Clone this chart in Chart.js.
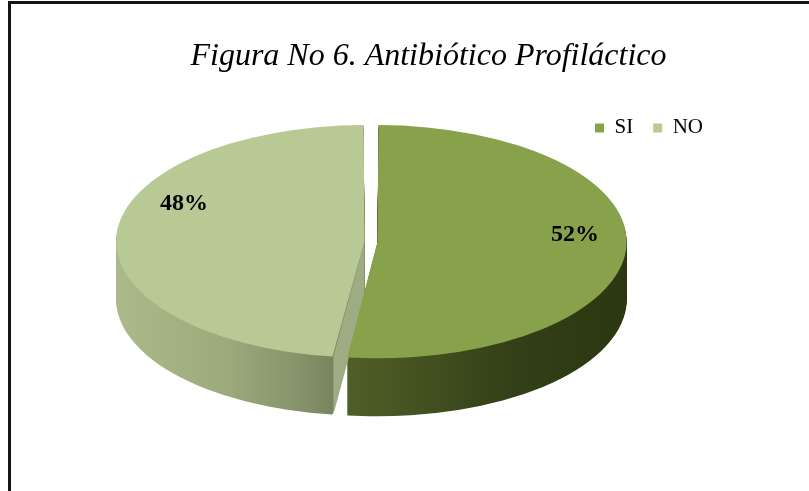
<!DOCTYPE html>
<html lang="es">
<head>
<meta charset="UTF-8">
<title>Figura No 6. Antibiótico Profiláctico</title>
<script src="https://cdn.jsdelivr.net/npm/chart.js@4.4.1/dist/chart.umd.min.js"></script>
<style>
  html, body { margin: 0; padding: 0; background: #fff; }
  #wrap { position: relative; width: 809px; height: 491px; overflow: hidden; }
  /* the chart frame: only top and left edges show in the picture */
  #frame { position: absolute; left: 8px; top: 1px; right: -10px; bottom: -10px;
           border-top: 3px solid #141414; border-left: 3px solid #141414; }
  #chart { position: absolute; left: 0; top: 0; }
</style>
</head>
<body>
<div id="wrap">
  <div id="frame"></div>
  <canvas id="chart" width="809" height="491"></canvas>
</div>
<script>
// data
const categories = ['SI', 'NO'];
const values = [52, 48];
const topColors = ['#87a24a', '#b8c996'];
// side shading, stops across the pie width (left -> right)
const sideStops = [
  [[0.45, '#4f5e27'], [0.62, '#414e1f'], [0.78, '#333f16'], [1, '#2c3811']],
  [[0, '#abb98a'], [0.2, '#9eac7d'], [0.36, '#87936a'], [0.48, '#6f7b55']]
];
// flat cut faces of the slices
const wallColors = ['#5d6e2d', '#9dac82'];

// 3d look (screen pixels)
const PIE_CX = 371, PIE_CY = 241.5;
const PIE_RX = 249, PIE_RY = 116.5;   // visible ellipse of the top face
const PIE_DEPTH = 58;
const BASE_R = 100;          // natural radius given to chart.js before squashing
const EXPLODE_PX = 6.5;      // gap of each slice from the centre
// arc.draw grows exploded slices by offset/4, so squash a bit more
const GROW = 1 + EXPLODE_PX / PIE_RX;
// label placement
const LABEL_DX = 8.5, LABEL_DY = -22, LABEL_R = 0.796, LABEL_ROT = 6 * Math.PI / 180;

function pieScale(arc) {
  return [PIE_RX / GROW / arc.outerRadius, PIE_RY / GROW / arc.outerRadius];
}

function pieView(ctx, arc, dy) {
  const [sx, sy] = pieScale(arc);
  ctx.translate(PIE_CX, PIE_CY + dy);
  ctx.scale(sx, sy);
  ctx.translate(-arc.x, -arc.y);
}

// radial cut faces that look towards the viewer
function drawWalls(ctx, arc, color) {
  const sy = pieScale(arc)[1];
  const depth = PIE_DEPTH / sy;
  const off = (arc.options.offset || 0) / 4;
  const circ = arc.endAngle - arc.startAngle;
  const rOut = arc.outerRadius + off * (1 - Math.sin(Math.min(Math.PI, circ)));
  const mid = (arc.startAngle + arc.endAngle) / 2;
  const ax = arc.x + Math.cos(mid) * off, ay = arc.y + Math.sin(mid) * off;
  [[arc.startAngle, -1], [arc.endAngle, 1]].forEach(([a, side]) => {
    const normal = a + side * Math.PI / 2;
    if (Math.sin(normal) <= 0) return;
    const rx = ax + Math.cos(a) * rOut, ry = ay + Math.sin(a) * rOut;
    ctx.beginPath();
    ctx.moveTo(ax, ay);
    ctx.lineTo(rx, ry);
    ctx.lineTo(rx, ry + depth);
    ctx.lineTo(ax, ay + depth);
    ctx.closePath();
    ctx.fillStyle = color;
    ctx.fill();
  });
}

const pie3d = {
  id: 'pie3d',
  beforeDatasetsDraw(chart) {
    const ctx = chart.ctx;
    const arcs = chart.getDatasetMeta(0).data;
    const R = arcs[0].outerRadius;
    // walls: stack the slices downwards, deepest first
    for (let d = PIE_DEPTH; d >= 1; d--) {
      arcs.forEach((arc, i) => {
        ctx.save();
        pieView(ctx, arc, d);
        const g = ctx.createLinearGradient(arc.x - R, 0, arc.x + R, 0);
        sideStops[i].forEach(s => g.addColorStop(s[0], s[1]));
        const saved = arc.options;
        arc.options = Object.assign({}, saved, { backgroundColor: g, borderWidth: 0 });
        arc.draw(ctx);
        arc.options = saved;
        ctx.restore();
      });
    }
    arcs.forEach((arc, i) => {
      ctx.save();
      pieView(ctx, arc, 0);
      drawWalls(ctx, arc, wallColors[i]);
      ctx.restore();
    });
    // top faces get drawn by chart.js under this transform
    ctx.save();
    pieView(ctx, arcs[0], 0);
  },
  afterDatasetsDraw(chart) {
    const ctx = chart.ctx;
    ctx.restore();
    const arcs = chart.getDatasetMeta(0).data;
    const total = values.reduce((a, b) => a + b, 0);
    ctx.save();
    ctx.font = 'bold 24px "Liberation Serif"';
    ctx.fillStyle = '#000';
    ctx.textAlign = 'center';
    ctx.textBaseline = 'middle';
    arcs.forEach((arc, i) => {
      const mid = (arc.startAngle + arc.endAngle) / 2 + LABEL_ROT;
      const x = PIE_CX + LABEL_DX + Math.cos(mid) * LABEL_R * PIE_RX;
      const y = PIE_CY + LABEL_DY + Math.sin(mid) * LABEL_R * PIE_RY;
      ctx.fillText(Math.round(values[i] / total * 100) + '%', x, y);
    });
    ctx.restore();
  }
};

new Chart(document.getElementById('chart'), {
  type: 'pie',
  data: {
    labels: categories,
    datasets: [{
      data: values,
      backgroundColor: topColors,
      borderWidth: 0,
      radius: BASE_R,
      offset: 4 * EXPLODE_PX * BASE_R * GROW / PIE_RX,
      clip: false
    }]
  },
  options: {
    responsive: false,
    animation: false,
    events: [],
    layout: { padding: { top: 18, left: 134, right: 86, bottom: 0 } },
    plugins: {
      title: {
        display: true,
        text: 'Figura No 6. Antibiótico Profiláctico',
        color: '#000',
        font: { family: '"Liberation Serif"', style: 'italic', size: 32, weight: 'normal' },
        padding: { top: 19, bottom: 22 }
      },
      legend: {
        position: 'top',
        align: 'end',
        labels: {
          color: '#000',
          boxWidth: 9,
          boxHeight: 9,
          padding: 20,
          font: { family: '"Liberation Serif"', size: 21 }
        }
      },
      tooltip: { enabled: false }
    }
  },
  plugins: [pie3d]
});
</script>
</body>
</html>
